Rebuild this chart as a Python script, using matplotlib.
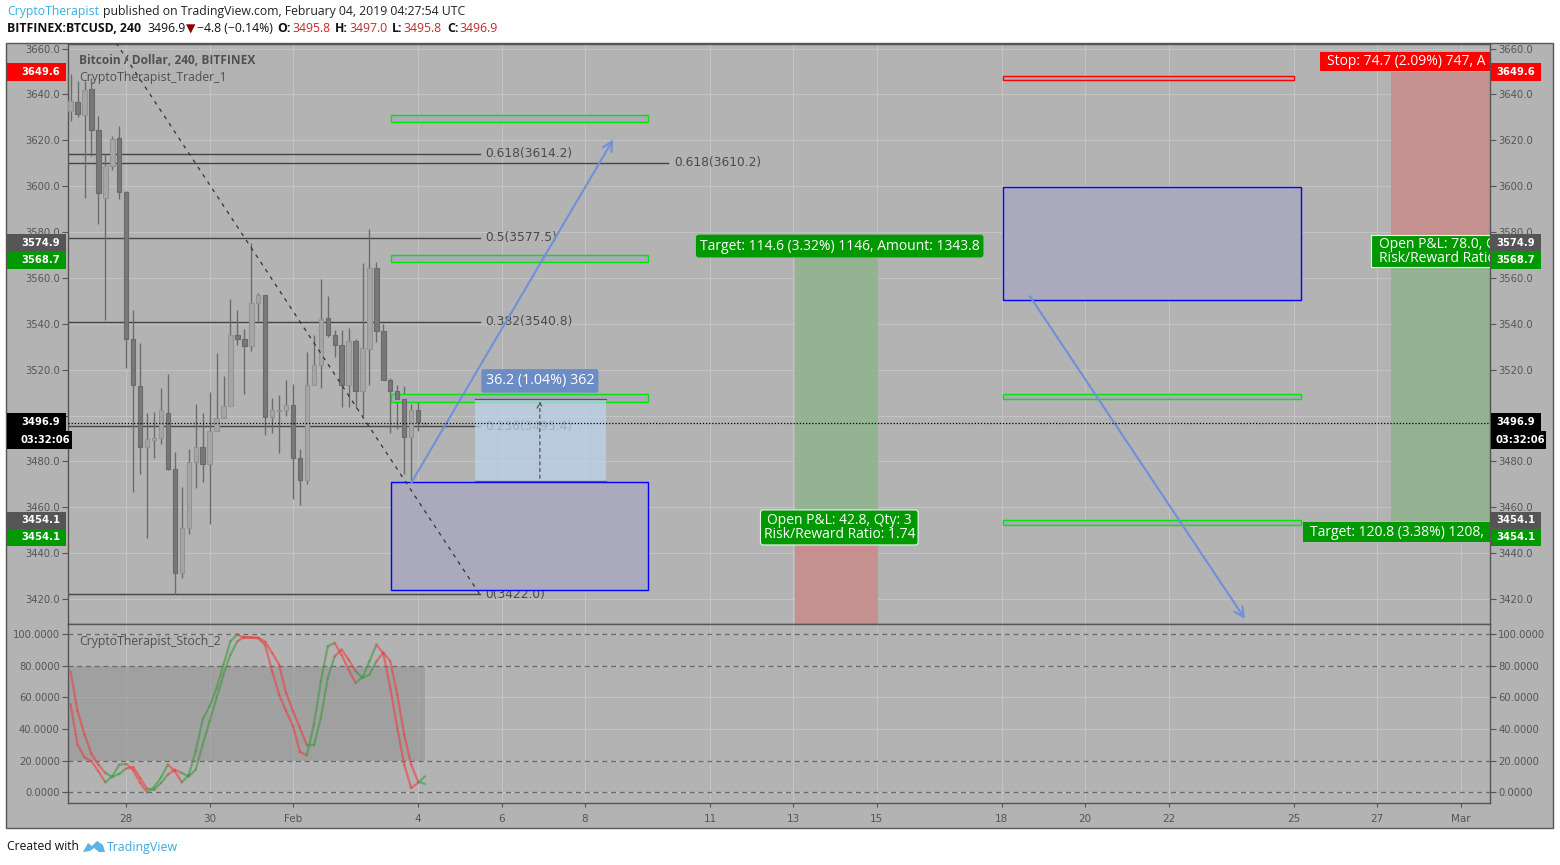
import numpy as np
import matplotlib
matplotlib.use('Agg')
import matplotlib.pyplot as plt
from matplotlib.patches import Rectangle, Polygon
from matplotlib.ticker import FormatStrFormatter, FuncFormatter

W, H = 1560, 865

# 4h candles, BITFINEX:BTCUSD
opens = [3633.0, 3636.6, 3631.2, 3642.4, 3624.3, 3594.8, 3609.0, 3620.9, 3597.4, 3533.3,
         3512.8, 3486.4, 3489.3, 3490.0, 3501.3, 3476.5, 3431.2, 3450.8, 3479.8, 3486.4,
         3478.7, 3493.2, 3499.0, 3504.1, 3535.0, 3533.3, 3530.3, 3549.2, 3552.4, 3499.4,
         3502.0, 3502.3, 3504.5, 3481.6, 3471.8, 3513.5, 3521.9, 3542.5, 3535.3, 3530.6,
         3513.2, 3532.4, 3510.6, 3528.9, 3564.5, 3536.9, 3515.4, 3510.6, 3507.1, 3490.7,
         3502.3, 3495.8]
highs = [3649.0, 3646.0, 3646.0, 3647.0, 3630.5, 3614.1, 3622.1, 3626.2, 3598.1, 3545.9,
         3531.7, 3500.9, 3501.6, 3511.8, 3518.3, 3484.2, 3469.0, 3485.3, 3505.2, 3500.9,
         3510.3, 3527.4, 3517.3, 3550.7, 3545.9, 3537.9, 3575.3, 3553.6, 3552.4, 3507.7,
         3508.9, 3515.4, 3513.9, 3485.6, 3527.7, 3535.3, 3559.4, 3552.1, 3537.2, 3537.2,
         3538.2, 3533.5, 3566.6, 3581.4, 3566.9, 3540.1, 3516.4, 3513.5, 3512.9, 3505.2,
         3508.9, 3497.0]
lows = [3628.6, 3630.1, 3595.0, 3613.0, 3583.3, 3541.5, 3606.9, 3594.2, 3520.8, 3466.5,
        3474.7, 3446.4, 3481.3, 3487.8, 3476.2, 3422.0, 3429.0, 3448.2, 3468.2, 3470.8,
        3452.5, 3493.2, 3499.0, 3504.1, 3530.9, 3509.2, 3528.0, 3541.1, 3491.7, 3492.2,
        3483.5, 3499.9, 3463.6, 3461.2, 3470.0, 3513.5, 3511.8, 3534.3, 3525.6, 3503.8,
        3503.8, 3503.4, 3499.9, 3513.2, 3532.1, 3515.4, 3492.2, 3494.1, 3474.7, 3471.8,
        3493.2, 3495.8]
closes = [3637.0, 3631.5, 3642.1, 3624.3, 3597.1, 3609.0, 3620.4, 3597.4, 3533.3, 3513.2,
          3486.4, 3489.6, 3490.4, 3502.3, 3476.5, 3431.2, 3450.8, 3479.8, 3486.4, 3478.7,
          3493.2, 3499.0, 3504.1, 3535.0, 3533.3, 3530.3, 3549.2, 3552.4, 3499.4, 3502.3,
          3502.4, 3504.5, 3481.6, 3471.8, 3513.5, 3521.9, 3542.2, 3535.3, 3530.6, 3513.2,
          3532.4, 3510.6, 3529.5, 3564.5, 3536.9, 3515.4, 3510.6, 3507.1, 3490.7, 3502.3,
          3497.2, 3496.9]

stoch_k = [55.9, 30.2, 22.1, 19.6, 13.3, 6.3, 10.1, 17.5, 17.9, 14.0,
           5.9, 0.0, 3.0, 9.5, 17.5, 13.3, 6.3, 11.0, 26.0, 46.0,
           54.4, 66.0, 80.8, 95.6, 100.0, 97.6, 97.7, 97.5, 93.0, 76.6,
           61.8, 51.3, 41.8, 25.5, 23.4, 42.8, 70.2, 92.4, 94.5, 86.8,
           77.6, 69.2, 72.8, 82.9, 93.5, 87.8, 66.0, 40.7, 17.5, 2.7,
           6.0, 10.1]
stoch_d = [76.6, 51.3, 36.5, 24.3, 17.5, 12.2, 9.7, 11.6, 15.0, 16.0,
           9.1, 2.3, 1.5, 5.9, 11.2, 14.3, 12.2, 10.0, 14.3, 30.2,
           44.9, 59.7, 74.5, 87.1, 95.6, 98.4, 98.1, 97.8, 95.2, 88.2,
           80.8, 62.9, 51.3, 40.7, 29.7, 29.7, 47.0, 72.4, 86.1, 90.3,
           84.0, 76.6, 72.4, 74.5, 82.9, 88.4, 82.9, 61.8, 36.5, 17.5,
           6.8, 5.3]

# day numbers counted from Jan 1 = 1 (so Feb 1 = 32, Mar 1 = 60)
last_day = 35 + 4 / 24
date_ticks = [28, 30, 32, 35, 37, 39, 42, 44, 46, 49, 51, 53, 56, 58, 60]
date_labels = ['28', '30', 'Feb', '4', '6', '8', '11', '13', '15', '18', '20', '22', '25', '27', 'Mar']
price_ticks = np.arange(3420, 3661, 20)
stoch_ticks = [0, 20, 40, 60, 80, 100]

fib_prices = [3614.2, 3577.5, 3540.8, 3495.4, 3422.0]
fib_names = ['0.618', '0.5', '0.382', '0.236', '0']
fib2_price = 3610.2

last_price = 3496.9
long_entry, long_target, long_stop = 3454.1, 3568.7, 3388.2
short_entry, short_target, short_stop = 3574.9, 3454.1, 3649.6

BG = '#b3b3b3'
GRID = '#c3c3c3'
AXC = '#555555'
GREEN_BOX = '#00e600'
BOX_FILL = '#aaaabc'


def fx(x):
    return x / W


def fy(y):
    return 1 - y / H


fig = plt.figure(figsize=(15.6, 8.65), dpi=100)
fig.patch.set_facecolor('white')
fig.add_artist(Rectangle((fx(6), fy(828)), (1553 - 6) / W, (828 - 43) / H,
                         transform=fig.transFigure, facecolor=BG,
                         edgecolor=AXC, lw=1, zorder=-1))

ax = fig.add_axes([fx(68), fy(624), (1490 - 68) / W, (624 - 44) / H])
ax2 = fig.add_axes([fx(68), fy(803), (1490 - 68) / W, (803 - 624) / H], sharex=ax)

for a in (ax, ax2):
    a.set_facecolor(BG)
    for s in a.spines.values():
        s.set_color(AXC)
        s.set_linewidth(1)
    a.grid(color=GRID, lw=0.8)
    a.set_axisbelow(True)
    a.tick_params(axis='y', left=True, right=True, labelleft=True, labelright=True,
                  direction='out', length=4, color=AXC, labelsize=7.2,
                  labelcolor=AXC, pad=2)

ax.set_xlim(26.604, 60.705)
ax.set_ylim(3409.1, 3662.0)
ax.set_yticks(price_ticks)
# 3500.0 sits under the last-price badge, so its label is left out
ax.yaxis.set_major_formatter(FuncFormatter(lambda v, pos: '' if abs(v - 3500) < 1 else '%.1f' % v))
ax.set_xticks(date_ticks)
ax.tick_params(axis='x', bottom=False, labelbottom=False)

ax2.set_ylim(-6.8, 106.5)
ax2.set_yticks(stoch_ticks)
ax2.yaxis.set_major_formatter(FormatStrFormatter('%.4f'))
ax2.set_xticklabels(date_labels)
ax2.tick_params(axis='x', length=3, color=AXC, labelsize=7.5, labelcolor=AXC, pad=5)

# ---- candles
n = len(closes)
days = last_day - (n - 1 - np.arange(n)) / 6
o, h, l, c = map(np.array, (opens, highs, lows, closes))
up = c >= o
ax.vlines(days, l, h, color='#6c6c6c', lw=1, zorder=3)
body = np.maximum(np.abs(c - o), 0.6)
ax.bar(days, body, bottom=np.minimum(o, c), width=0.105,
       color=np.where(up, '#a6a6a6', '#787878'),
       edgecolor=np.where(up, '#939393', '#6a6a6a'), lw=0.8, zorder=4)

# ---- fib retracement
ax.plot([25.2, 36.48], [3733.0, 3422.0], color='#333333', lw=0.9, ls=(0, (3, 4)), zorder=5)
for p, name in zip(fib_prices, fib_names):
    ax.plot([26.0, 36.48], [p, p], color='#444444', lw=1, zorder=2)
    ax.text(36.62, p, '%s(%.1f)' % (name, p), fontsize=8.8, color='#4a4a4a',
            va='center', ha='left', zorder=2)
ax.plot([26.0, 40.99], [fib2_price, fib2_price], color='#444444', lw=1, zorder=2)
ax.text(41.14, fib2_price, '0.618(%.1f)' % fib2_price, fontsize=8.8, color='#4a4a4a',
        va='center', ha='left', zorder=2)


# ---- boxes
def box(x0, x1, p0, p1, ec, fc=BOX_FILL, lw=1.0, z=3):
    ax.add_patch(Rectangle((x0, p0), x1 - x0, p1 - p0, facecolor=fc, edgecolor=ec, lw=lw, zorder=z))


box(34.35, 40.51, 3628.0, 3631.0, GREEN_BOX)
box(34.35, 40.51, 3567.1, 3570.1, GREEN_BOX)
box(34.35, 40.51, 3506.1, 3509.2, GREEN_BOX)
box(34.35, 40.51, 3424.0, 3470.8, '#0000ff')
box(49.03, 56.17, 3550.2, 3599.5, '#0000ff')
box(49.03, 56.17, 3507.3, 3509.5, GREEN_BOX)
box(49.03, 56.17, 3452.4, 3454.6, GREEN_BOX)
box(49.03, 56.00, 3646.5, 3648.0, '#ff0000')

# measure tool
ax.add_patch(Rectangle((36.36, 3471.4), 39.51 - 36.36, 3507.4 - 3471.4,
                       facecolor='#bcd4ee', alpha=0.72, edgecolor='none', zorder=6))
ax.plot([36.36, 39.51], [3507.4, 3507.4], color='#555555', lw=0.9, zorder=6)
ax.plot([36.36, 39.51], [3471.4, 3471.4], color='#555555', lw=0.9, zorder=6)
ax.annotate('', xy=(37.92, 3507.4), xytext=(37.92, 3471.4),
            arrowprops=dict(arrowstyle='->', color='#444444', lw=0.8, ls=(0, (3, 3))), zorder=7)
ax.text(37.92, 3515.1, '36.2 (1.04%) 362', fontsize=10.3, color='white', ha='center', va='center',
        family='Open Sans', zorder=8,
        bbox=dict(boxstyle='round,pad=0.3,rounding_size=0.15', fc='#6b8cc4', ec='none'))

# arrows
for (x0, p0), (x1, p1) in [((34.84, 3470.8), (39.68, 3620.4)), ((49.67, 3552.0), (54.83, 3411.3))]:
    ax.annotate('', xy=(x1, p1), xytext=(x0, p0),
                arrowprops=dict(arrowstyle='->,head_length=0.7,head_width=0.35',
                                color='#7090d8', lw=1.5, shrinkA=0, shrinkB=0), zorder=7)

# long position (middle)
ax.add_patch(Rectangle((44.04, long_entry), 46.03 - 44.04, long_target - long_entry,
                       facecolor='#93b392', edgecolor='none', zorder=2))
ax.add_patch(Rectangle((44.04, long_stop), 46.03 - 44.04, long_entry - long_stop,
                       facecolor='#c79090', edgecolor='none', zorder=2))
lab = dict(family='Open Sans', fontsize=10, color='white', zorder=9)
ax.text(45.11, 3573.9, 'Target: 114.6 (3.32%) 1146, Amount: 1343.8', ha='center', va='center',
        bbox=dict(boxstyle='round,pad=0.28,rounding_size=0.2', fc='#009900', ec='none'), **lab)
ax.text(45.10, 3451.2, 'Open P&L: 42.8, Qty: 3\nRisk/Reward Ratio: 1.74', ha='center', va='center',
        multialignment='center', linespacing=0.9,
        bbox=dict(boxstyle='round,pad=0.22,rounding_size=0.2', fc='#009900', ec='#e8f4e8', lw=0.8),
        **lab)

# short position (right, runs past the axis; its labels are cut by the axis edge)
ax.add_patch(Rectangle((58.33, short_entry), 4.0, short_stop - short_entry,
                       facecolor='#c49090', edgecolor='none', zorder=2))
ax.add_patch(Rectangle((58.33, short_target), 4.0, short_entry - short_target,
                       facecolor='#93b292', edgecolor='none', zorder=2))
ax.add_patch(Rectangle((56.64, 3650.1), 6.0, 8.3, facecolor='#ff0000', edgecolor='none', zorder=9))
ax.text(56.80, 3654.3, 'Stop: 74.7 (2.09%) 747, A', ha='left', va='center', clip_on=True, **lab)
ax.add_patch(Rectangle((57.84, 3564.8), 6.0, 13.8, facecolor='#009900', edgecolor='#e8f4e8',
                       lw=0.8, zorder=9))
ax.text(58.04, 3571.7, 'Open P&L: 78.0, Q\nRisk/Reward Ratio:', ha='left', va='center',
        linespacing=0.9, clip_on=True, **lab)
ax.add_patch(Rectangle((56.23, 3445.0), 6.0, 8.4, facecolor='#009900', edgecolor='none', zorder=9))
ax.text(56.39, 3449.2, 'Target: 120.8 (3.38%) 1208,', ha='left', va='center', clip_on=True, **lab)

ax.axhline(last_price, color='black', lw=0.9, ls=(0, (1, 1.5)), zorder=8)

# ---- stochastic
ax2.fill_between([26.0, days[-1]], 20, 80, color='#8a8a8a', alpha=0.45, lw=0, zorder=1)
for v in [0, 20, 80, 100]:
    ax2.axhline(v, color='#6a6a6a', lw=0.9, ls=(0, (4, 3)), zorder=2)
k = np.array(stoch_k)
d = np.array(stoch_d)
for i in range(n - 1):
    col = '#3f9a3f' if k[i + 1] >= d[i + 1] else '#ee4040'
    ax2.plot(days[i:i + 2], k[i:i + 2], color=col, lw=1.6, alpha=0.6, zorder=3,
             solid_capstyle='round')
    ax2.plot(days[i:i + 2], d[i:i + 2], color=col, lw=1.6, alpha=0.6, zorder=3,
             solid_capstyle='round')

# ---- legends inside panes
fig.text(fx(79), fy(60), 'Bitcoin / Dollar, 240, BITFINEX', fontsize=8.6, fontweight='bold',
         color='#505050', family='Open Sans', va='center')
fig.text(fx(79), fy(77), 'CryptoTherapist_Trader_1', fontsize=8.8, color='#505050',
         family='Open Sans', va='center')
fig.text(fx(79), fy(641), 'CryptoTherapist_Stoch_2', fontsize=8.8, color='#505050',
         family='Open Sans', va='center')

# ---- price badges on both axes
badges = [(72, '3649.6', '#ff0000'), (243, '3574.9', '#555555'), (260, '3568.7', '#009900'),
          (422, '3496.9', '#000000'), (440, '03:32:06', '#000000'),
          (520, '3454.1', '#555555'), (537, '3454.1', '#009900')]
for yc, txt, col in badges:
    wide = ':' in txt
    fig.add_artist(Rectangle((fx(7), fy(yc + 8.5)), (65 if wide else 59) / W, 17 / H,
                             transform=fig.transFigure, facecolor=col, edgecolor='none', zorder=10))
    fig.text(fx(60 if not wide else 70), fy(yc), txt, ha='right', va='center', color='white',
             fontsize=7.2, fontweight='bold', zorder=11)
    fig.add_artist(Rectangle((fx(1491), fy(yc + 8.5)), (55 if wide else 50) / W, 17 / H,
                             transform=fig.transFigure, facecolor=col, edgecolor='none', zorder=10))
    fig.text(fx(1496), fy(yc), txt, ha='left', va='center', color='white',
             fontsize=7.2, fontweight='bold', zorder=11)

# ---- header and footer
renderer = fig.canvas.get_renderer()


def runs(x, y, parts, size):
    for s, col, wt, gap in parts:
        t = fig.text(fx(x), fy(y), s, color=col, fontweight=wt, fontsize=size,
                     family=['Open Sans', 'DejaVu Sans'], va='center', ha='left')
        x += t.get_window_extent(renderer).width + gap


red = '#c62828'
runs(7, 12, [('CryptoTherapist', '#3aaee0', 'normal', 4),
             ('published on TradingView.com, February 04, 2019 04:27:54 UTC', '#222222', 'normal', 0)], 8.8)
runs(7, 29, [('BITFINEX:BTCUSD, 240', '#111111', 'bold', 6), ('3496.9', '#111111', 'normal', 1),
             ('▼', '#8b0000', 'normal', 1), ('−4.8 (−0.14%)', '#111111', 'normal', 5),
             ('O:', '#111111', 'bold', 1), ('3495.8', red, 'normal', 5),
             ('H:', '#111111', 'bold', 1), ('3497.0', red, 'normal', 5),
             ('L:', '#111111', 'bold', 1), ('3495.8', red, 'normal', 5),
             ('C:', '#111111', 'bold', 1), ('3496.9', red, 'normal', 0)], 8.8)
runs(7, 847, [('Created with', '#111111', 'normal', 28)], 8.7)
fig.add_artist(Polygon([(fx(83), fy(852)), (fx(88), fy(843)), (fx(92), fy(846)), (fx(97), fy(841)),
                        (fx(103), fy(845)), (fx(105), fy(852)), (fx(99), fy(852)), (fx(94), fy(848)),
                        (fx(90), fy(851))],
                       closed=True, transform=fig.transFigure, facecolor='#5ab4e6', edgecolor='none'))
runs(107, 847, [('TradingView', '#3aa8df', 'normal', 0)], 8.9)

fig.savefig('out.png', dpi=100, facecolor='white')
